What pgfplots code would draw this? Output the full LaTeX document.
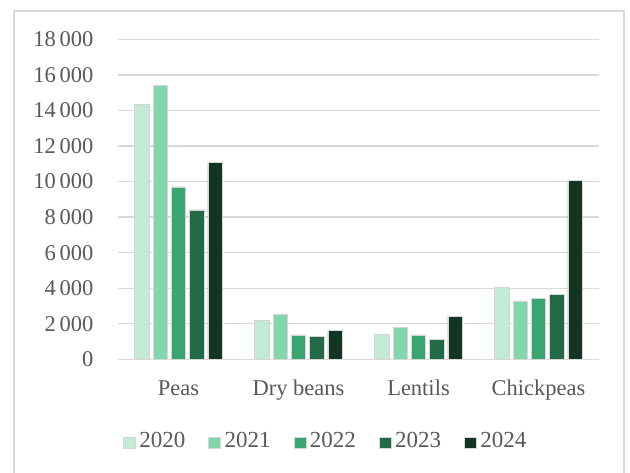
\documentclass[border=0pt]{standalone}
\usepackage{fontspec}
\setmainfont{Liberation Serif}
\usepackage{pgfplots}
\pgfplotsset{compat=1.18}
\definecolor{c20}{HTML}{C2EAD6}
\definecolor{c21}{HTML}{82D6AB}
\definecolor{c22}{HTML}{38A66E}
\definecolor{c23}{HTML}{236B47}
\definecolor{c24}{HTML}{123524}
\definecolor{txt}{HTML}{595959}
\definecolor{gridc}{HTML}{D9D9D9}
\definecolor{edge}{HTML}{D6D6D6}
\begin{document}
\begin{tikzpicture}
\path[use as bounding box, fill=white] (-118.5pt,-113.7pt) rectangle (511.5pt,359.3pt);
\draw[gridc, line width=1.8pt] (-104.5pt,-114pt) -- (-104.5pt,348.3pt) -- (505.5pt,348.3pt) -- (505.5pt,-114pt);
\begin{axis}[
  scale only axis, width=480pt, height=320pt,
  at={(0pt,0pt)}, anchor=south west,
  xmin=-0.5, xmax=3.5, ymin=0, ymax=18000,
  ytick={0,2000,...,18000},
  xtick={0,1,2,3},
  xticklabels={Peas,Dry beans,Lentils,Chickpeas},
  scaled y ticks=false,
  ymajorgrids,
  grid style={gridc, line width=1.3pt},
  axis line style={draw=none},
  major tick length=0pt,
  ybar=4pt, bar width=14.3pt,
  ticklabel style={font=\fontsize{22.5}{27}\selectfont, text=txt, inner sep=0pt},
  yticklabel style={anchor=east, xshift=-25pt},
  xticklabel style={anchor=base, yshift=-36.7pt},
  /pgf/number format/assume math mode=true,
  /pgf/number format/1000 sep={\,},
  legend columns=5,
  legend image code/.code={\fill[#1] (0pt,-7.7pt) rectangle (12pt,4pt);},
  legend style={draw=none, fill=none, at={(0.4296,-0.2553)}, anchor=center,
    font=\fontsize{23}{27}\selectfont, text=txt, inner sep=0pt,
    nodes={inner sep=0pt},
    /tikz/every odd column/.append style={column sep=3.7pt},
    /tikz/every even column/.append style={column sep=23pt}},
]
\addplot[fill=c20, draw=edge, line width=0.6pt] coordinates {(0,14330) (1,2200) (2,1420) (3,4060)};
\addplot[fill=c21, draw=edge, line width=0.6pt] coordinates {(0,15410) (1,2510) (2,1780) (3,3290)};
\addplot[fill=c22, draw=edge, line width=0.6pt] coordinates {(0,9700) (1,1370) (2,1370) (3,3440)};
\addplot[fill=c23, draw=edge, line width=0.6pt] coordinates {(0,8400) (1,1290) (2,1140) (3,3650)};
\addplot[fill=c24, draw=edge, line width=0.6pt] coordinates {(0,11070) (1,1630) (2,2430) (3,10070)};
\legend{2020,2021,2022,2023,2024}
\end{axis}
\end{tikzpicture}
\end{document}
